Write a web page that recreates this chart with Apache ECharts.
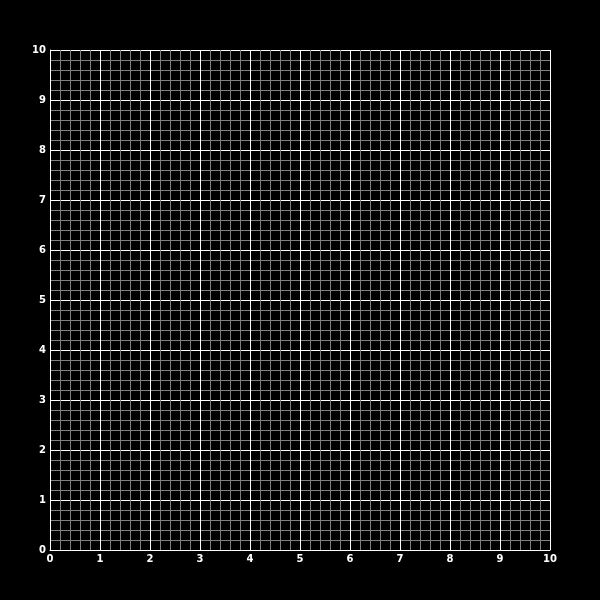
<!DOCTYPE html>
<html>
<head>
<meta charset="utf-8">
<script src="https://cdn.jsdelivr.net/npm/echarts@6/dist/echarts.min.js"></script>
</head>
<body style="margin:0;background:#000">
<div id="container" style="width:600px;height:600px"></div>
<script type="text/javascript">
    // axis range and ticks
    var xTicks = [0, 1, 2, 3, 4, 5, 6, 7, 8, 9, 10];
    var yTicks = [0, 1, 2, 3, 4, 5, 6, 7, 8, 9, 10];
    var minorSplit = 5;

    var myChart = echarts.init(document.getElementById('container'));

    function axisOf(ticks, margin) {
        return {
            type: 'value',
            min: ticks[0],
            max: ticks[ticks.length - 1],
            interval: ticks[1] - ticks[0],
            axisLine: {show: true, lineStyle: {color: '#fff', width: 1}},
            axisTick: {show: false},
            axisLabel: {
                color: '#fff',
                fontWeight: 'bold',
                fontSize: 10,
                fontFamily: 'DejaVu Sans',
                margin: margin
            },
            splitLine: {show: true, lineStyle: {color: '#fff', width: 1}},
            minorTick: {show: false, splitNumber: minorSplit},
            minorSplitLine: {show: true, lineStyle: {color: '#808080', width: 1}}
        };
    }

    var option = {
        backgroundColor: '#000',
        animation: false,
        grid: {left: 50, right: 50, top: 50, bottom: 50},
        xAxis: axisOf(xTicks, 4),
        yAxis: axisOf(yTicks, 4),
        series: [{type: 'scatter', data: []}]
    };
    myChart.setOption(option);
</script>
</body>
</html>
